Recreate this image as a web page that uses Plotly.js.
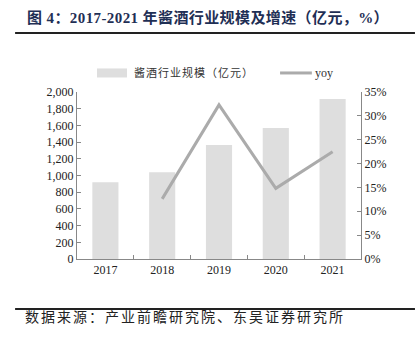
<!DOCTYPE html>
<html>
<head>
<meta charset="utf-8">
<script src="https://cdn.plot.ly/plotly-3.0.1.min.js"></script>
<style>html,body{margin:0;padding:0;background:#fff;}#chart{width:415px;height:350px;}</style>
</head>
<body>
<div id="chart"></div>
<script>
var years = ['2017', '2018', '2019', '2020', '2021'];
var scale = [920, 1040, 1365, 1570, 1915];
var yoyYears = ['2018', '2019', '2020', '2021'];
var yoy = [12.6, 32.3, 14.8, 22.5];
var leftTicks = [0, 200, 400, 600, 800, 1000, 1200, 1400, 1600, 1800, 2000];
var rightTicks = [0, 5, 10, 15, 20, 25, 30, 35];

var serif = '"Liberation Serif", "Times New Roman", "Noto Sans CJK SC", serif';
var cjk = '"Liberation Serif", "Noto Sans CJK SC", sans-serif';

var traces = [
  {
    type: 'bar', x: years, y: scale, name: '酱酒行业规模（亿元）',
    marker: {color: '#dedede'}, width: 0.46, showlegend: false, yaxis: 'y'
  },
  {
    type: 'scatter', mode: 'lines', x: yoyYears, y: yoy, name: 'yoy',
    line: {color: '#ababab', width: 3}, showlegend: false, yaxis: 'y2'
  }
];

var layout = {
  width: 415, height: 350,
  margin: {l: 77, r: 54, t: 92, b: 91},
  paper_bgcolor: '#fff', plot_bgcolor: '#fff',
  font: {family: serif, size: 12, color: '#222'},
  xaxis: {
    type: 'category', categoryarray: years, range: [-0.5, 4.5],
    showline: true, linecolor: '#888', linewidth: 1,
    ticks: 'inside', tickson: 'boundaries', ticklen: 4, tickcolor: '#888',
    showgrid: false, zeroline: false,
    tickfont: {family: serif, size: 12, color: '#222'}
  },
  yaxis: {
    range: [0, 2000], tickvals: leftTicks,
    ticktext: leftTicks.map(function(v){ return v.toLocaleString('en-US'); }),
    showline: true, linecolor: '#888', linewidth: 1,
    ticks: 'inside', ticklen: 4, tickcolor: '#888',
    showgrid: false, zeroline: false,
    tickfont: {family: serif, size: 12, color: '#222'}
  },
  yaxis2: {
    overlaying: 'y', side: 'right', range: [0, 35], tickvals: rightTicks,
    ticktext: rightTicks.map(function(v){ return v + '%'; }),
    showline: true, linecolor: '#888', linewidth: 1,
    ticks: 'inside', ticklen: 4, tickcolor: '#888',
    showgrid: false, zeroline: false,
    tickfont: {family: serif, size: 12, color: '#222'}
  },
  shapes: [
    {type: 'line', xref: 'paper', yref: 'paper', x0: -0.218, x1: 1.19, y0: 1.353, y1: 1.353,
     line: {color: '#222', width: 2}},
    {type: 'line', xref: 'paper', yref: 'paper', x0: -0.218, x1: 1.19, y0: -0.299, y1: -0.299,
     line: {color: '#222', width: 2}},
    {type: 'rect', xref: 'paper', yref: 'paper', x0: 0.0704, x1: 0.176, y0: 1.087, y1: 1.141,
     fillcolor: '#dedede', line: {width: 0}},
    {type: 'line', xref: 'paper', yref: 'paper', x0: 0.715, x1: 0.827, y0: 1.114, y1: 1.114,
     line: {color: '#ababab', width: 3}}
  ],
  annotations: [
    {xref: 'paper', yref: 'paper', x: -0.183, y: 1.445, xanchor: 'left', yanchor: 'middle',
     showarrow: false, text: '<b><span style="letter-spacing:0.4px">图 4：2017-2021 年酱酒行业规模及增速（亿元，%）</span></b>',
     font: {family: cjk, size: 15, color: '#1f2f55'}},
    {xref: 'paper', yref: 'paper', x: 0.195, y: 1.114, xanchor: 'left', yanchor: 'middle',
     showarrow: false, text: '<span style="letter-spacing:1px">酱酒行业规模（亿元）</span>',
     font: {family: cjk, size: 11, color: '#333'}},
    {xref: 'paper', yref: 'paper', x: 0.83, y: 1.114, xanchor: 'left', yanchor: 'middle',
     showarrow: false, text: 'yoy',
     font: {family: serif, size: 12, color: '#333'}},
    {xref: 'paper', yref: 'paper', x: -0.19, y: -0.345, xanchor: 'left', yanchor: 'middle',
     showarrow: false, text: '<span style="letter-spacing:2px">数据来源：产业前瞻研究院、东吴证券研究所</span>',
     font: {family: cjk, size: 14, color: '#222'}}
  ]
};

Plotly.newPlot('chart', traces, layout, {displayModeBar: false, staticPlot: true});
</script>
</body>
</html>
